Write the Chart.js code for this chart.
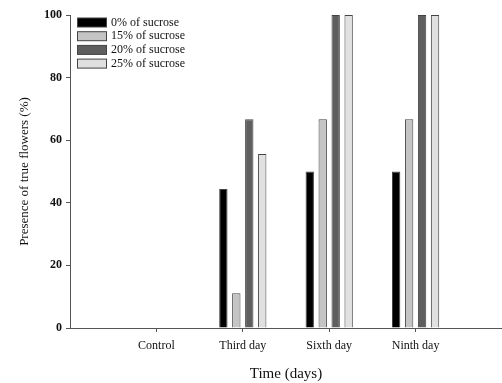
<!DOCTYPE html>
<html>
<head>
<meta charset="utf-8">
<script src="https://cdn.jsdelivr.net/npm/chart.js@4.4.0/dist/chart.umd.min.js"></script>
<style>
  html, body { margin: 0; padding: 0; background: #fff; }
  canvas { display: block; }
</style>
</head>
<body>
<canvas id="myChart" width="502" height="383"></canvas>
<script>
// blank first/last labels give the empty space either side of the groups
const categories = ['', 'Control', 'Third day', 'Sixth day', 'Ninth day', ''];
const sucrose0 = [null, 0, 44.4, 50, 50, null];
const sucrose15 = [null, 0, 11.1, 66.7, 66.7, null];
const sucrose20 = [null, 0, 66.7, 100, 100, null];
const sucrose25 = [null, 0, 55.6, 100, 100, null];
const yTicks = [0, 20, 40, 60, 80, 100];

const serif = 'Liberation Serif';

// legend in the top-left corner of the plot, like the original
const cornerLegend = {
  id: 'cornerLegend',
  afterDraw(chart) {
    const c = chart.ctx;
    const area = chart.chartArea;
    c.save();
    c.font = '12px "' + serif + '"';
    c.textBaseline = 'middle';
    chart.data.datasets.forEach((ds, i) => {
      const y = area.top + 7.5 + i * 13.7;
      c.fillStyle = ds.backgroundColor;
      c.fillRect(area.left + 7.5, y - 4.5, 29, 9);
      c.strokeStyle = '#444';
      c.lineWidth = 1;
      c.strokeRect(area.left + 7.5, y - 4.5, 29, 9);
      c.fillStyle = '#111';
      c.fillText(ds.label, area.left + 41, y);
    });
    c.restore();
  }
};

new Chart(document.getElementById('myChart'), {
  type: 'bar',
  data: {
    labels: categories,
    datasets: [
      { label: '0% of sucrose', data: sucrose0, backgroundColor: '#000000' },
      { label: '15% of sucrose', data: sucrose15, backgroundColor: '#c4c4c4' },
      { label: '20% of sucrose', data: sucrose20, backgroundColor: '#5f5f5f' },
      { label: '25% of sucrose', data: sucrose25, backgroundColor: '#e0e0e0' }
    ]
  },
  options: {
    responsive: false,
    animation: false,
    layout: { padding: { top: 15, right: -4, left: 0, bottom: 0 } },
    datasets: {
      bar: {
        borderColor: '#444',
        borderWidth: 1,
        categoryPercentage: 0.6,
        barPercentage: 0.645
      }
    },
    plugins: {
      legend: { display: false },
      tooltip: { enabled: false }
    },
    scales: {
      x: {
        offset: false,
        grid: {
          offset: false,
          drawOnChartArea: false,
          tickLength: 4,
          tickColor: (ctx) => (ctx.index === 0 || ctx.index === 5) ? 'rgba(0,0,0,0)' : '#555'
        },
        border: { color: '#555', width: 1 },
        ticks: {
          autoSkip: false,
          maxRotation: 0,
          padding: 7,
          color: '#111',
          font: { family: serif, size: 12 }
        },
        title: {
          display: true,
          text: 'Time (days)',
          color: '#111',
          font: { family: serif, size: 15 },
          padding: { top: 6, bottom: 0 }
        },
        afterFit: (scale) => {
          scale.height = 55;
          // let the axis run off the right edge, as in the original
          scale.paddingLeft = 0;
          scale.paddingRight = -4;
        }
      },
      y: {
        min: 0,
        max: 100,
        afterBuildTicks: (scale) => { scale.ticks = yTicks.map(v => ({ value: v })); },
        grid: {
          drawOnChartArea: false,
          tickLength: 4,
          tickColor: '#555'
        },
        border: { color: '#555', width: 1 },
        ticks: {
          padding: 4,
          color: '#111',
          font: { family: serif, size: 12, weight: 'bold' }
        },
        title: {
          display: true,
          text: 'Presence of true flowers (%)',
          color: '#111',
          font: { family: serif, size: 13 },
          padding: { top: 17, bottom: 0 }
        },
        afterFit: (scale) => { scale.width = 70; }
      }
    }
  },
  plugins: [cornerLegend]
});
</script>
</body>
</html>
